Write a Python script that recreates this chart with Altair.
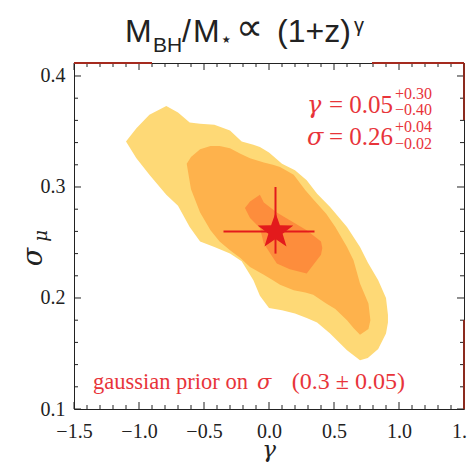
import math
import altair as alt
import pandas as pd

# ---------------- data ----------------
# outer (light) confidence region: gamma, lower sigma, upper sigma
g1 = [-1.10, -1.02, -0.92, -0.79, -0.70, -0.61, -0.53, -0.42, -0.30, -0.21, -0.12, -0.07,
      0.00, 0.10, 0.20, 0.29, 0.37, 0.47, 0.60, 0.70, 0.76, 0.84, 0.90, 0.915]
hi1 = [0.341, 0.353, 0.365, 0.373, 0.367, 0.358, 0.357, 0.356, 0.351, 0.341, 0.338, 0.336,
       0.331, 0.321, 0.315, 0.306, 0.294, 0.282, 0.264, 0.246, 0.232, 0.216, 0.200, 0.185]
lo1 = [0.341, 0.326, 0.311, 0.293, 0.283, 0.264, 0.251, 0.246, 0.240, 0.233, 0.216, 0.202,
       0.191, 0.189, 0.186, 0.182, 0.178, 0.168, 0.153, 0.144, 0.146, 0.154, 0.168, 0.178]

# middle region
g2 = [-0.633, -0.60, -0.53, -0.45, -0.38, -0.30, -0.22, -0.146, -0.04, 0.03, 0.085, 0.19,
      0.28, 0.34, 0.44, 0.51, 0.60, 0.65, 0.70, 0.765, 0.78]
hi2 = [0.321, 0.327, 0.334, 0.337, 0.337, 0.335, 0.330, 0.326, 0.322, 0.320, 0.318, 0.311,
       0.297, 0.289, 0.276, 0.264, 0.246, 0.234, 0.213, 0.195, 0.180]
lo2 = [0.321, 0.298, 0.277, 0.261, 0.251, 0.243, 0.236, 0.228, 0.221, 0.216, 0.212, 0.207,
       0.205, 0.203, 0.195, 0.190, 0.180, 0.173, 0.167, 0.172, 0.180]

# inner region
g3 = [-0.185, -0.146, -0.07, -0.04, 0.06, 0.16, 0.29, 0.40, 0.41]
hi3 = [0.281, 0.287, 0.293, 0.286, 0.277, 0.270, 0.261, 0.251, 0.245]
lo3 = [0.281, 0.272, 0.263, 0.249, 0.231, 0.226, 0.222, 0.239, 0.245]

# best fit and error bars
best_gamma = [0.05]
best_sigma = [0.26]
gamma_lo = [-0.35]
gamma_hi = [0.35]
sigma_lo = [0.24]
sigma_hi = [0.30]

# ticks
x_major = [-1.5, -1.0, -0.5, 0.0, 0.5, 1.0, 1.5]
x_minor = [-1.4, -1.3, -1.2, -1.1, -0.9, -0.8, -0.7, -0.6, -0.4, -0.3, -0.2, -0.1,
           0.1, 0.2, 0.3, 0.4, 0.6, 0.7, 0.8, 0.9, 1.1, 1.2, 1.3, 1.4]
y_major = [0.1, 0.2, 0.3, 0.4]
y_minor = [0.12, 0.14, 0.16, 0.18, 0.22, 0.24, 0.26, 0.28, 0.32, 0.34, 0.36, 0.38]

# ---------------- layout ----------------
W, H = 390, 346
PL, PT = 74, 63
SERIF = "Liberation Serif"
GREEK = "DejaVu Serif"
SANS = "Liberation Sans"
RED_TXT = "#E8343A"
RED = "#E31A1C"
INK = "#222222"

xs = alt.Scale(domain=[-1.5, 1.5], nice=False, zero=False)
ys = alt.Scale(domain=[0.1, 0.4117], nice=False, zero=False)

x_axis = alt.Axis(values=x_major, labelExpr="replace(format(datum.value, '.1f'), '-', '−')",
                  ticks=False, domain=False, grid=False, title=None,
                  labelFont=SERIF, labelFontSize=20, labelColor=INK, labelPadding=12,
                  labelFlush=False, labelOverlap=False, labelBound=False)
y_axis = alt.Axis(values=y_major, format=".1f", ticks=False, domain=False, grid=False, title=None,
                  labelFont=SERIF, labelFontSize=20, labelColor=INK, labelPadding=9,
                  labelOverlap=False, labelBound=False)


def region(g, lo, hi, color):
    df = pd.DataFrame({"g": g, "lo": lo, "hi": hi})
    return alt.Chart(df).mark_area(color=color, opacity=1, interpolate="linear").encode(
        x=alt.X("g:Q", scale=xs, axis=x_axis),
        y=alt.Y("lo:Q", scale=ys, axis=y_axis),
        y2="hi:Q",
    )


outer = region(g1, lo1, hi1, "#FED976")
middle = region(g2, lo2, hi2, "#FEB24C")
inner = region(g3, lo3, hi3, "#FD8D3C")

best = pd.DataFrame({"g": best_gamma, "s": best_sigma, "glo": gamma_lo, "ghi": gamma_hi,
                     "slo": sigma_lo, "shi": sigma_hi})
herr = alt.Chart(best).mark_rule(color=RED, strokeWidth=2).encode(
    x=alt.X("glo:Q", scale=xs), x2="ghi:Q", y=alt.Y("s:Q", scale=ys))
verr = alt.Chart(best).mark_rule(color=RED, strokeWidth=2).encode(
    x=alt.X("g:Q", scale=xs), y=alt.Y("slo:Q", scale=ys), y2="shi:Q")

pts = []
for k in range(10):
    r = 1.0 if k % 2 == 0 else 0.40
    a = math.radians(-90 + 36 * k)
    pts.append(f"{r * math.cos(a):.4f},{r * math.sin(a):.4f}")
star_path = "M" + "L".join(pts) + "Z"
star = alt.Chart(best).mark_point(shape=star_path, filled=True, size=1400, color=RED,
                                  opacity=1, strokeWidth=0).encode(
    x=alt.X("g:Q", scale=xs), y=alt.Y("s:Q", scale=ys))


def xticks(vals, length):
    df = pd.DataFrame({"v": vals})
    bot = alt.Chart(df).mark_rule(color=INK, strokeWidth=1).encode(
        x=alt.X("v:Q", scale=xs), y=alt.value(H), y2=alt.value(H - length))
    top = alt.Chart(df).mark_rule(color=INK, strokeWidth=1).encode(
        x=alt.X("v:Q", scale=xs), y=alt.value(0), y2=alt.value(length))
    return [bot, top]


def yticks(vals, length):
    df = pd.DataFrame({"v": vals})
    left = alt.Chart(df).mark_rule(color=INK, strokeWidth=1).encode(
        y=alt.Y("v:Q", scale=ys), x=alt.value(0), x2=alt.value(length))
    right = alt.Chart(df).mark_rule(color=INK, strokeWidth=1).encode(
        y=alt.Y("v:Q", scale=ys), x=alt.value(W), x2=alt.value(W - length))
    return [left, right]


tick_layers = xticks(x_major, 7) + xticks(x_minor, 4) + yticks(y_major, 7) + yticks(y_minor, 4)


def txt(s, x, y, size, font=SERIF, color=INK, align="left", baseline="alphabetic",
        style="normal", angle=0):
    df = pd.DataFrame({"t": [s]})
    kw = dict(font=font, fontSize=size, color=color, align=align, baseline=baseline,
              fontStyle=style)
    if angle:
        kw["angle"] = angle
    return alt.Chart(df).mark_text(**kw).encode(x=alt.value(x), y=alt.value(y), text="t:N")


texts = [
    # title  M_BH / M_* ∝ (1+z)^γ
    txt("M", 125 - PL, 42 - PT, 32, font=SANS),
    txt("BH", 153 - PL, 52 - PT, 21, font=SANS),
    txt("/", 182 - PL, 42 - PT, 32, font=SANS),
    txt("M", 193 - PL, 42 - PT, 32, font=SANS),
    txt("⋆", 220 - PL, 46 - PT, 20, font="DejaVu Sans"),
    txt("∝", 236 - PL, 40 - PT, 38, font="DejaVu Sans"),
    txt("(1+z)", 277 - PL, 42 - PT, 32, font=SANS),
    txt("γ", 354 - PL, 32 - PT, 20, font=SANS),
    # annotations
    txt("γ", 307 - PL, 113 - PT, 24, font=GREEK, color=RED_TXT, style="italic"),
    txt("= 0.05", 393 - PL, 113 - PT, 25, color=RED_TXT, align="right"),
    txt("+0.30", 395 - PL, 99 - PT, 16, color=RED_TXT),
    txt("−0.40", 395 - PL, 115 - PT, 16, color=RED_TXT),
    txt("σ", 307 - PL, 145 - PT, 24, font=GREEK, color=RED_TXT, style="italic"),
    txt("= 0.26", 393 - PL, 145 - PT, 25, color=RED_TXT, align="right"),
    txt("+0.04", 395 - PL, 132 - PT, 16, color=RED_TXT),
    txt("−0.02", 395 - PL, 149 - PT, 16, color=RED_TXT),
    txt("gaussian prior on", 93 - PL, 389 - PT, 22.5, color=RED_TXT),
    txt("σ", 257 - PL, 389 - PT, 21, font=GREEK, color=RED_TXT, style="italic"),
    txt("(0.3 ± 0.05)", 405 - PL, 389 - PT, 24, color=RED_TXT, align="right"),
    # axis titles
    txt("γ", 269 - PL, 457 - PT, 23, font=GREEK, style="italic", align="center"),
    txt("σ", 42 - PL, 257 - PT, 27, font=GREEK, style="italic", align="center", angle=270),
    txt("μ", 47 - PL, 236 - PT, 18, font=GREEK, style="italic", align="center", angle=270),
]

# dark red strokes on the frame (from neighbouring panel)
frame_df = pd.DataFrame({"d": [0]})
frame_bits = [
    alt.Chart(frame_df).mark_rule(color="#A52A1E", strokeWidth=2).encode(
        x=alt.value(0), x2=alt.value(78), y=alt.value(0)),
    alt.Chart(frame_df).mark_rule(color="#A52A1E", strokeWidth=2).encode(
        x=alt.value(298), x2=alt.value(W), y=alt.value(0)),
    alt.Chart(frame_df).mark_rule(color="#8B2A1E", strokeWidth=2).encode(
        x=alt.value(W), y=alt.value(0), y2=alt.value(57)),
    alt.Chart(frame_df).mark_rule(color="#8B2A1E", strokeWidth=2).encode(
        x=alt.value(W), y=alt.value(257), y2=alt.value(H)),
]

chart = alt.layer(outer, middle, inner, *tick_layers, herr, verr, star, *frame_bits, *texts).properties(
    width=W, height=H,
    padding={"left": PL, "top": PT, "right": 467 - PL - W, "bottom": 467 - PT - H},
    autosize=alt.AutoSizeParams(type="none"),
    background="white",
).configure_view(stroke=INK, strokeWidth=1)

chart.save("out.html", embed_options={"renderer": "svg", "actions": False})
